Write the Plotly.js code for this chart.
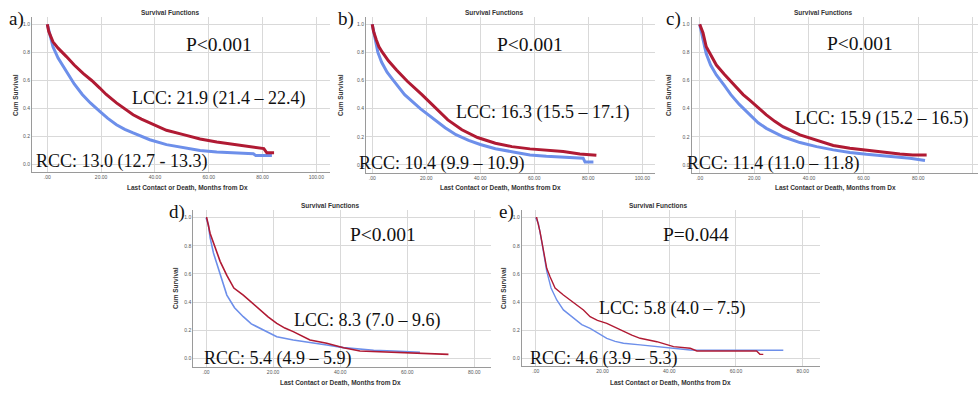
<!DOCTYPE html>
<html>
<head>
<meta charset="utf-8">
<script src="https://cdn.plot.ly/plotly-3.0.1.min.js"></script>
<style>html,body{margin:0;padding:0;background:#fff;}#chart{width:978px;height:393px;}</style>
</head>
<body>
<div id="chart"></div>
<script>
// ---------- data ----------
const panelLabels = ["a)", "b)", "c)", "d)", "e)"];
const pValues = ["P<0.001", "P<0.001", "P<0.001", "P<0.001", "P=0.044"];
const lccText = ["LCC: 21.9 (21.4 – 22.4)", "LCC: 16.3 (15.5 – 17.1)", "LCC: 15.9 (15.2 – 16.5)", "LCC: 8.3 (7.0 – 9.6)", "LCC: 5.8 (4.0 – 7.5)"];
const rccText = ["RCC: 13.0 (12.7 - 13.3)", "RCC: 10.4 (9.9 – 10.9)", "RCC: 11.4 (11.0 – 11.8)", "RCC: 5.4 (4.9 – 5.9)", "RCC: 4.6 (3.9 – 5.3)"];
const xTicks100 = [0, 20, 40, 60, 80, 100];
const xTickText100 = [".00", "20.00", "40.00", "60.00", "80.00", "100.00"];
const xTicks80 = [0, 20, 40, 60, 80];
const xTickText80 = [".00", "20.00", "40.00", "60.00", "80.00"];
const yTicks = [0, 0.2, 0.4, 0.6, 0.8, 1.0];
const yTickText = ["0.0", "0.2", "0.4", "0.6", "0.8", "1.0"];

const aLccX = [0, 0.5, 2.1, 4, 7.1, 10, 13.3, 16.5, 19.5, 21.9, 25.7, 28.5, 31.9, 35, 38.1, 41, 44.3, 50.6, 56.8, 63, 69.2, 75, 79, 80.5, 81.6, 84.3];
const aLccY = [1, 0.95, 0.875, 0.83, 0.77, 0.71, 0.65, 0.60, 0.546, 0.5, 0.44, 0.40, 0.356, 0.325, 0.297, 0.27, 0.245, 0.214, 0.183, 0.162, 0.147, 0.13, 0.119, 0.115, 0.085, 0.085];
const aRccX = [0, 0.9, 2.1, 4, 7.1, 10, 13.0, 16, 19.5, 22.5, 25.7, 28.8, 31.9, 35, 38.1, 44.3, 50.6, 56.8, 63, 69.2, 76.6, 77.5, 83.5];
const aRccY = [1, 0.93, 0.84, 0.76, 0.66, 0.575, 0.5, 0.44, 0.38, 0.33, 0.285, 0.252, 0.226, 0.2, 0.178, 0.143, 0.124, 0.102, 0.09, 0.083, 0.078, 0.066, 0.066];

const bLccX = [0, 0.5, 1.5, 2.5, 3.8, 6, 9, 13, 18.4, 23.6, 28, 33.2, 39, 45.6, 51.7, 58.4, 64.5, 70.7, 76.9, 83];
const bLccY = [1, 0.95, 0.89, 0.84, 0.8, 0.74, 0.675, 0.595, 0.5, 0.4, 0.32, 0.25, 0.195, 0.154, 0.13, 0.114, 0.104, 0.095, 0.078, 0.069];
const bRccX = [0, 0.5, 1, 2.1, 3.5, 5.5, 7.9, 12, 17.8, 20, 23, 27, 31, 35.7, 40, 45.6, 52.2, 58.4, 64.5, 70.7, 78.1, 78.8, 81.9];
const bRccY = [1, 0.95, 0.9, 0.8, 0.73, 0.66, 0.6, 0.5, 0.4, 0.367, 0.32, 0.265, 0.215, 0.175, 0.145, 0.115, 0.092, 0.071, 0.062, 0.055, 0.048, 0.02, 0.02];

const cLccX = [0, 1.2, 2.4, 4, 6.1, 9, 12.2, 15.9, 18.3, 21.4, 24.4, 27.5, 30.6, 36.7, 42.8, 48.9, 55, 61, 67.2, 73.3, 78, 83.1];
const cLccY = [1, 0.94, 0.84, 0.78, 0.71, 0.645, 0.575, 0.5, 0.46, 0.405, 0.356, 0.31, 0.27, 0.214, 0.178, 0.138, 0.119, 0.105, 0.095, 0.078, 0.071, 0.071];
const cRccX = [0, 1.2, 2.4, 4, 6.1, 9, 11.4, 14.5, 18.3, 21.4, 24.4, 27.5, 30.6, 36.7, 42.8, 48.9, 55, 61, 67.2, 73, 77, 82.5];
const cRccY = [1, 0.89, 0.79, 0.71, 0.64, 0.565, 0.5, 0.43, 0.356, 0.30, 0.26, 0.228, 0.2, 0.159, 0.13, 0.107, 0.088, 0.075, 0.064, 0.055, 0.048, 0.031];

const dLccX = [0, 0.2, 1.2, 2.2, 4.2, 6.2, 8.3, 11.1, 13.5, 16.1, 18.5, 21.1, 23.5, 26, 28.5, 31, 36, 41, 45.9, 50, 55.9, 60, 65.8, 72.3];
const dLccY = [1, 1, 0.89, 0.82, 0.69, 0.59, 0.5, 0.45, 0.40, 0.344, 0.295, 0.249, 0.215, 0.19, 0.16, 0.13, 0.107, 0.076, 0.052, 0.048, 0.043, 0.038, 0.033, 0.028];
const dRccX = [0, 0.7, 1.2, 2.2, 4.2, 5.4, 6.2, 8.5, 11.1, 13.5, 16.1, 18.5, 21.1, 26, 31, 36, 41, 45.9, 50, 55.9, 63.8];
const dRccY = [1, 0.95, 0.86, 0.75, 0.60, 0.5, 0.45, 0.36, 0.296, 0.245, 0.213, 0.18, 0.154, 0.13, 0.114, 0.095, 0.076, 0.064, 0.058, 0.052, 0.043];

const eLccX = [0, 0.3, 1.3, 2.3, 3.3, 4.3, 5.8, 8.3, 11.3, 14.3, 16.3, 18.5, 21.3, 23.8, 26.3, 28.8, 31.3, 36.3, 41.3, 46.3, 48.3, 56.3, 66.2, 67.2, 68.2];
const eLccY = [1, 1, 0.90, 0.76, 0.64, 0.58, 0.5, 0.45, 0.40, 0.344, 0.296, 0.27, 0.249, 0.22, 0.19, 0.165, 0.142, 0.118, 0.083, 0.071, 0.052, 0.052, 0.052, 0.028, 0.028];
const eRccX = [0, 0.8, 1.8, 3.3, 4.6, 6.3, 8.3, 11.3, 13.8, 16.3, 18.8, 21.3, 23.8, 26.3, 31.3, 36.3, 41.3, 46.3, 56.3, 74.2];
const eRccY = [1, 0.96, 0.83, 0.62, 0.5, 0.415, 0.344, 0.284, 0.24, 0.213, 0.18, 0.142, 0.12, 0.107, 0.095, 0.083, 0.071, 0.059, 0.057, 0.057];

// ---------- layout helpers ----------
const W = 978, H = 393;
const px = v => v / W;
const py = v => 1 - v / H;
const RED = "#b01a33", BLUE = "#6d8fea";

// pixel boxes: [left, right, top, bottom], x range, y range
const panels = [
  {box: [32, 330, 17, 172.3], xr: [-5.7, 105.1], yr: [-0.054, 1.052], ticks: 100, lx: aLccX, ly: aLccY, rx: aRccX, ry: aRccY, w: 3},
  {box: [366, 655, 17, 172.5], xr: [-2.3, 104.7], yr: [-0.054, 1.052], ticks: 100, lx: bLccX, ly: bLccY, rx: bRccX, ry: bRccY, w: 3},
  {box: [691.5, 978, 17, 172.5], xr: [-3.0, 101.9], yr: [-0.054, 1.052], ticks: 100, lx: cLccX, ly: cLccY, rx: cRccX, ry: cRccY, w: 3},
  {box: [193.3, 490.7, 210, 366.5], xr: [-3.8, 84.9], yr: [-0.058, 1.055], ticks: 80, lx: dLccX, ly: dLccY, rx: dRccX, ry: dRccY, w: 1.6},
  {box: [521.7, 820, 210, 366], xr: [-4.2, 85.2], yr: [-0.055, 1.055], ticks: 80, lx: eLccX, ly: eLccY, rx: eRccX, ry: eRccY, w: 1.4}
];

// text positions (pixels)
const labelPos = [[7, 19], [336, 19], [664, 19], [167, 212], [497, 212]];
const pPos = [[184, 44], [495, 45], [825, 43], [348, 235], [661, 235]];
const lccPos = [[130, 98], [454, 112], [793, 118], [292, 320], [597, 308]];
const rccPos = [[34, 161], [357, 163], [685, 163], [202, 358], [528, 358]];
const titlePos = [[170, 12], [495, 12], [823, 12], [330, 205], [658, 205]];
const xTitlePos = [[187, 188], [500, 188], [835, 188], [340, 383], [670, 383]];
const yTitlePos = [[15, 95], [340, 95], [668, 95], [175, 288], [503, 288]];

const data = [];
const layout = {
  width: W, height: H,
  margin: {l: 0, r: 0, t: 0, b: 0},
  paper_bgcolor: "#fff", plot_bgcolor: "#fff",
  showlegend: false,
  annotations: []
};

panels.forEach((p, i) => {
  const n = i === 0 ? "" : String(i + 1);
  const xa = "x" + n, ya = "y" + n;
  const ser = [
    {x: p.rx, y: p.ry, color: BLUE, name: "RCC"},
    {x: p.lx, y: p.ly, color: RED, name: "LCC"}
  ];
  ser.forEach(s => data.push({
    type: "scatter", mode: "lines", x: s.x, y: s.y, name: s.name,
    xaxis: xa, yaxis: ya,
    line: {color: s.color, width: p.w, shape: "linear"},
    hoverinfo: "skip"
  }));
  const common = {
    showgrid: true, gridcolor: "#d9d9d9", gridwidth: 1,
    showline: true, linecolor: "#9a9a9a", linewidth: 1,
    zeroline: false, ticks: "", fixedrange: true,
    tickfont: {family: "Arial, Liberation Sans", size: 5, color: "#555"}
  };
  layout["xaxis" + n] = Object.assign({}, common, {
    domain: [px(p.box[0]), px(p.box[1])], range: p.xr, anchor: ya,
    tickvals: p.ticks === 100 ? xTicks100 : xTicks80,
    ticktext: p.ticks === 100 ? xTickText100 : xTickText80,
    tickmode: "array"
  });
  layout["yaxis" + n] = Object.assign({}, common, {
    domain: [py(p.box[3]), py(p.box[2])], range: p.yr, anchor: xa,
    tickvals: yTicks, ticktext: yTickText, tickmode: "array"
  });

  const A = layout.annotations;
  const serif = {family: "Liberation Serif, Times New Roman, serif", color: "#111"};
  A.push({xref: "paper", yref: "paper", x: px(labelPos[i][0]), y: py(labelPos[i][1]), text: panelLabels[i], showarrow: false, xanchor: "left", yanchor: "middle", font: Object.assign({size: 19}, serif)});
  A.push({xref: "paper", yref: "paper", x: px(pPos[i][0]), y: py(pPos[i][1]), text: pValues[i], showarrow: false, xanchor: "left", yanchor: "middle", font: Object.assign({size: 19.5}, serif)});
  A.push({xref: "paper", yref: "paper", x: px(lccPos[i][0]), y: py(lccPos[i][1]), text: lccText[i], showarrow: false, xanchor: "left", yanchor: "middle", font: Object.assign({size: 18}, serif)});
  A.push({xref: "paper", yref: "paper", x: px(rccPos[i][0]), y: py(rccPos[i][1]), text: rccText[i], showarrow: false, xanchor: "left", yanchor: "middle", font: Object.assign({size: 18}, serif)});
  A.push({xref: "paper", yref: "paper", x: px(titlePos[i][0]), y: py(titlePos[i][1]), text: "<b>Survival Functions</b>", showarrow: false, xanchor: "center", yanchor: "middle", font: {family: "Arial, Liberation Sans", size: 6.5, color: "#333"}});
  A.push({xref: "paper", yref: "paper", x: px(xTitlePos[i][0]), y: py(xTitlePos[i][1]), text: "<b>Last Contact or Death, Months from Dx</b>", showarrow: false, xanchor: "center", yanchor: "middle", font: {family: "Arial, Liberation Sans", size: 6.5, color: "#333"}});
  A.push({xref: "paper", yref: "paper", x: px(yTitlePos[i][0]), y: py(yTitlePos[i][1]), text: "<b>Cum Survival</b>", textangle: -90, showarrow: false, xanchor: "center", yanchor: "middle", font: {family: "Arial, Liberation Sans", size: 6.5, color: "#333"}});
});

Plotly.newPlot("chart", data, layout, {staticPlot: true, displayModeBar: false});
</script>
</body>
</html>
